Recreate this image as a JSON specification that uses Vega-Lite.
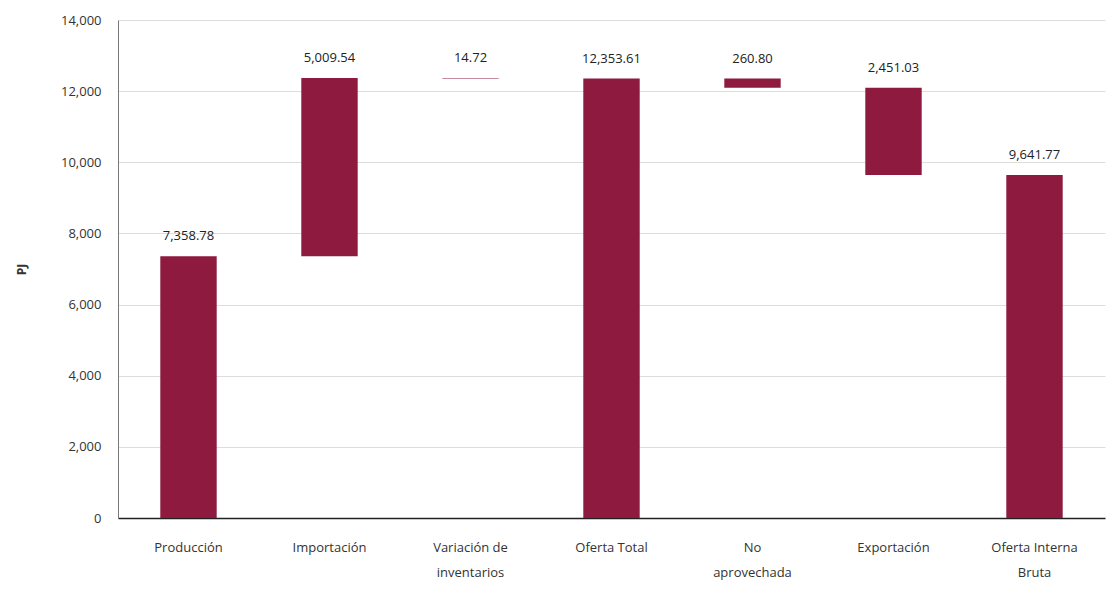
{
  "$schema": "https://vega.github.io/schema/vega-lite/v6.json",
  "width": 987,
  "height": 498,
  "autosize": "none",
  "padding": {"left": 118, "top": 20, "right": 5, "bottom": 71},
  "background": "white",
  "config": {
    "view": {"stroke": null},
    "font": "Open Sans",
    "axisY": {
      "titleFontSize": 12,
      "titleFontWeight": "bold",
      "titleColor": "#333333",
      "titlePadding": 32,
      "labelFontSize": 13,
      "labelColor": "#333333",
      "labelPadding": 17,
      "ticks": false,
      "domainColor": "#777777",
      "gridColor": "#dddddd",
      "gridWidth": 1
    }
  },
  "data": {
    "values": [
      {"concepto": "Producción", "inicio": 0, "fin": 7358.78, "tope": 7358.78, "valor": 7358.78},
      {"concepto": "Importación", "inicio": 7358.78, "fin": 12368.32, "tope": 12368.32, "valor": 5009.54},
      {"concepto": "Variación de inventarios", "inicio": 12368.32, "fin": 12353.61, "tope": 12368.32, "valor": 14.72},
      {"concepto": "Oferta Total", "inicio": 0, "fin": 12353.61, "tope": 12353.61, "valor": 12353.61},
      {"concepto": "No aprovechada", "inicio": 12353.61, "fin": 12092.81, "tope": 12353.61, "valor": 260.80},
      {"concepto": "Exportación", "inicio": 12092.81, "fin": 9641.78, "tope": 12092.81, "valor": 2451.03},
      {"concepto": "Oferta Interna Bruta", "inicio": 0, "fin": 9641.77, "tope": 9641.77, "valor": 9641.77}
    ]
  },
  "encoding": {
    "x": {
      "field": "concepto",
      "type": "nominal",
      "sort": null,
      "scale": {"paddingInner": 0.6, "paddingOuter": 0.3},
      "axis": {
        "title": null,
        "labelAngle": 0,
        "labelFontSize": 13,
        "labelColor": "#333333",
        "labelPadding": 23,
        "ticks": false,
        "domainColor": "#222222",
        "domainWidth": 1.5,
        "labelLineHeight": 25,
        "labelExpr": "datum.value == 'Variación de inventarios' ? ['Variación de', 'inventarios'] : datum.value == 'No aprovechada' ? ['No', 'aprovechada'] : datum.value == 'Oferta Interna Bruta' ? ['Oferta Interna', 'Bruta'] : datum.value"
      }
    }
  },
  "layer": [
    {
      "mark": {"type": "bar", "color": "#8E1A3F"},
      "encoding": {
        "y": {
          "field": "inicio",
          "type": "quantitative",
          "title": "PJ",
          "scale": {"domain": [0, 14000], "nice": false},
          "axis": {"values": [0, 2000, 4000, 6000, 8000, 10000, 12000, 14000], "format": ",d"}
        },
        "y2": {"field": "fin"}
      }
    },
    {
      "mark": {"type": "text", "baseline": "bottom", "dy": -13, "fontSize": 13, "color": "#222222"},
      "encoding": {
        "y": {
          "field": "tope",
          "type": "quantitative",
          "title": "PJ",
          "axis": {"values": [0, 2000, 4000, 6000, 8000, 10000, 12000, 14000], "format": ",d"}
        },
        "text": {"field": "valor", "type": "quantitative", "format": ",.2f"}
      }
    }
  ]
}
